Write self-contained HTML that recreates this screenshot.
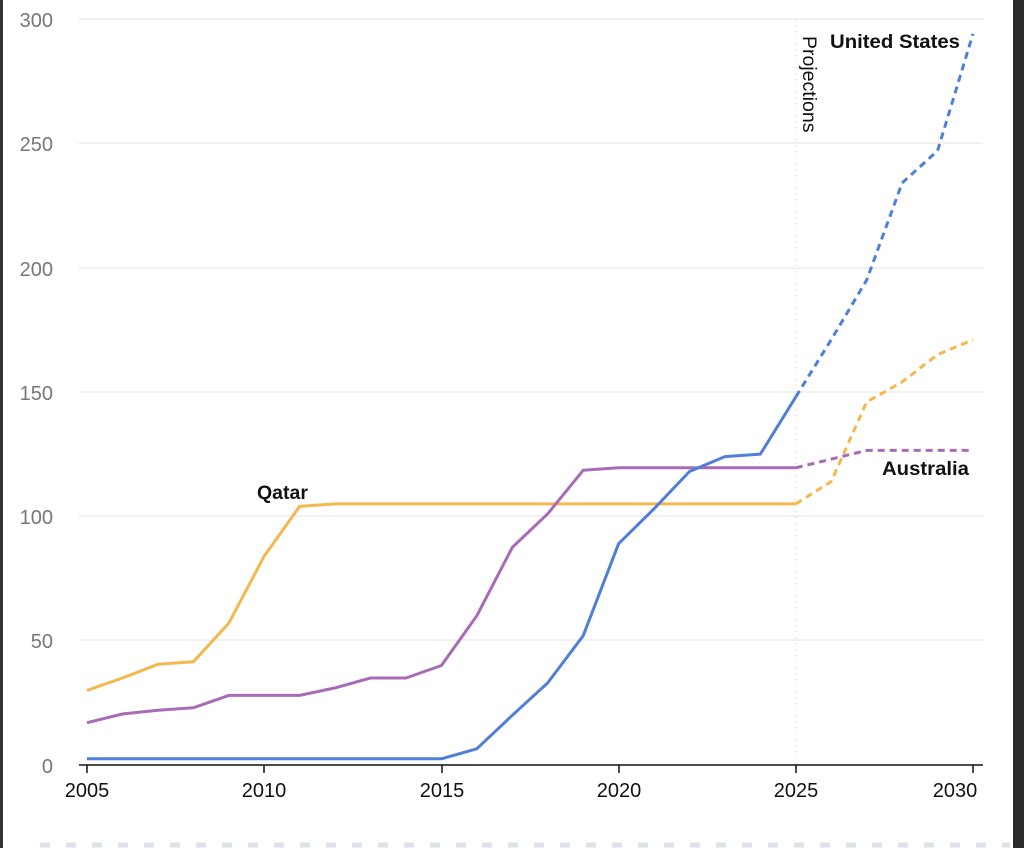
<!DOCTYPE html>
<html><head><meta charset="utf-8"><style>
html,body{margin:0;padding:0;background:#fff;width:1024px;height:848px;overflow:hidden}
svg{display:block;font-family:"Liberation Sans",Arial,sans-serif}
</style></head><body>
<svg id="s" width="1024" height="848" xmlns="http://www.w3.org/2000/svg">
<rect x="0" y="0" width="1024" height="848" fill="#fff"/>
<rect x="0" y="0" width="3" height="848" fill="#333"/>
<rect x="1013" y="0" width="11" height="848" fill="#2a2a2a"/>
<line x1="40" y1="845" x2="1010" y2="845" stroke="#dde2ea" stroke-width="5" stroke-dasharray="10,16"/>
<g stroke="#e3e3e3" stroke-width="1">
<line x1="79" y1="19" x2="983" y2="19"/><line x1="79" y1="143" x2="983" y2="143"/>
<line x1="79" y1="268" x2="983" y2="268"/><line x1="79" y1="392" x2="983" y2="392"/>
<line x1="79" y1="516" x2="983" y2="516"/><line x1="79" y1="640" x2="983" y2="640"/>
</g>
<g fill="#777" font-size="20" text-anchor="end">
<text x="53" y="27">300</text><text x="53" y="151">250</text><text x="53" y="276">200</text>
<text x="53" y="400">150</text><text x="53" y="524">100</text><text x="53" y="648">50</text><text x="53" y="773">0</text>
</g>
<line x1="796" y1="19" x2="796" y2="765" stroke="#ccc" stroke-dasharray="1,5"/>
<text transform="translate(803,36) rotate(90)" font-size="19.5" fill="#111">Projections</text>
<g id="lines" fill="none" stroke-width="3" stroke-linejoin="round"></g>
<line x1="79" y1="765" x2="983" y2="765" stroke="#111" stroke-width="1.5"/>
<g stroke="#111" stroke-width="1.5">
<line x1="87" y1="765" x2="87" y2="773"/><line x1="264" y1="765" x2="264" y2="773"/>
<line x1="442" y1="765" x2="442" y2="773"/><line x1="619" y1="765" x2="619" y2="773"/>
<line x1="796" y1="765" x2="796" y2="773"/><line x1="973" y1="765" x2="973" y2="773"/>
</g>
<g fill="#111" font-size="20" text-anchor="middle">
<text x="87" y="797">2005</text><text x="264" y="797">2010</text><text x="442" y="797">2015</text>
<text x="619" y="797">2020</text><text x="796" y="797">2025</text><text x="955" y="797">2030</text>
</g>
<g font-size="19.5" font-weight="bold" fill="#111">
<text x="257" y="499">Qatar</text>
<text x="830" y="48" textLength="130" lengthAdjust="spacingAndGlyphs">United States</text>
<text x="882" y="475" textLength="87" lengthAdjust="spacingAndGlyphs">Australia</text>
</g>
</svg>
<script>
var X=function(y){return 87+(y-2005)*35.44},Y=function(v){return 765-v*2.487};
var us=[2.5,2.5,2.5,2.5,2.5,2.5,2.5,2.5,2.5,2.5,2.5,6.5,20,33,52,89,103,118,124,125,148,171,195,234,247,294];
var qa=[30,35,40.5,41.5,57,84,104,105,105,105,105,105,105,105,105,105,105,105,105,105,105,114,146,154,165,171];
var au=[17,20.5,22,23,28,28,28,31,35,35,40,60,87.5,101,118.5,119.5,119.5,119.5,119.5,119.5,119.5,123,126.5,126.5,126.5,126.5];
var g=document.getElementById('lines'),ns='http://www.w3.org/2000/svg';
function add(d,c){
 function pl(a,b,dash){var p=[];for(var i=a;i<=b;i++)p.push(X(2005+i).toFixed(1)+','+Y(d[i]).toFixed(1));
  var e=document.createElementNS(ns,'polyline');e.setAttribute('points',p.join(' '));e.setAttribute('stroke',c);
  if(dash)e.setAttribute('stroke-dasharray','7,5');g.appendChild(e);}
 pl(0,20,false);pl(20,25,true);
}
add(qa,'#f4b84d');add(au,'#a86bb8');add(us,'#4f7fd8');
</script>
</body></html>
